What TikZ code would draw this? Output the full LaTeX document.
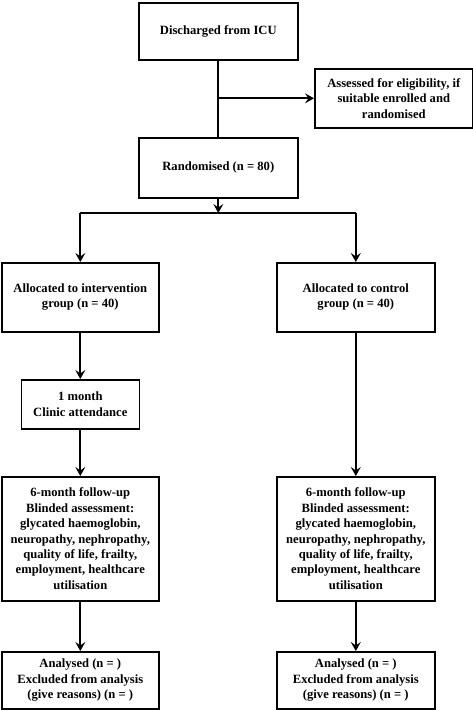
\documentclass[tikz,border=0pt]{standalone}
\usepackage{fontspec}
\setmainfont{Liberation Serif}
\usetikzlibrary{arrows.meta,positioning}
\begin{document}
\begin{tikzpicture}[x=1pt,y=-1pt,
  box/.style={draw,line width=1.6pt,inner sep=2pt,align=center,font=\bfseries\fontsize{12.6}{15.4}\selectfont,anchor=north west},
  conn/.style={line width=2pt},
  arr/.style={conn,-{Stealth[length=9pt,width=10pt,inset=3.5pt]}}]
\useasboundingbox (0,0) rectangle (473,710);
\node[box,minimum width=159pt,minimum height=57pt] (icu) at (138,2) {Discharged from ICU};
\node[box,minimum width=158pt,minimum height=59pt] (elig) at (314,68) {Assessed for eligibility, if\\suitable enrolled and\\randomised};
\node[box,minimum width=159pt,minimum height=60pt] (rand) at (138,137) {Randomised (n = 80)};
\node[box,minimum width=157pt,minimum height=69pt] (int) at (1,262) {Allocated to intervention\\group (n = 40)};
\node[box,minimum width=158pt,minimum height=69pt] (ctl) at (276,262) {Allocated to control\\group (n = 40)};
\node[box,minimum width=118pt,minimum height=49pt] (clin) at (20.5,379) {1 month\\Clinic attendance};
\node[box,minimum width=157pt,minimum height=124pt] (fu1) at (1,476) {6-month follow-up\\Blinded assessment:\\glycated haemoglobin,\\neuropathy, nephropathy,\\quality of life, frailty,\\employment, healthcare\\utilisation};
\node[box,minimum width=158pt,minimum height=124pt] (fu2) at (276,476) {6-month follow-up\\Blinded assessment:\\glycated haemoglobin,\\neuropathy, nephropathy,\\quality of life, frailty,\\employment, healthcare\\utilisation};
\node[box,minimum width=157pt,minimum height=57pt] (an1) at (1,651) {Analysed (n = )\\Excluded from analysis\\(give reasons) (n = )};
\node[box,minimum width=158pt,minimum height=57pt] (an2) at (276,651) {Analysed (n = )\\Excluded from analysis\\(give reasons) (n = )};
\coordinate (j1) at (icu.south |- elig.west);
\coordinate (split) at (rand.south |- 0,213);
\draw[conn] (icu.south) -- (rand.north);
\draw[arr] (j1) -- (elig.west);
\draw[arr] (rand.south) -- (split);
\draw[conn] (int.north |- split) -- (ctl.north |- split);
\draw[arr] (int.north |- split) -- (int.north);
\draw[arr] (ctl.north |- split) -- (ctl.north);
\draw[arr] (int.south) -- (int.south |- clin.north);
\draw[arr] (clin.south) -- (clin.south |- fu1.north);
\draw[arr] (ctl.south) -- (ctl.south |- fu2.north);
\draw[arr] (fu1.south) -- (fu1.south |- an1.north);
\draw[arr] (fu2.south) -- (fu2.south |- an2.north);
\end{tikzpicture}
\end{document}
